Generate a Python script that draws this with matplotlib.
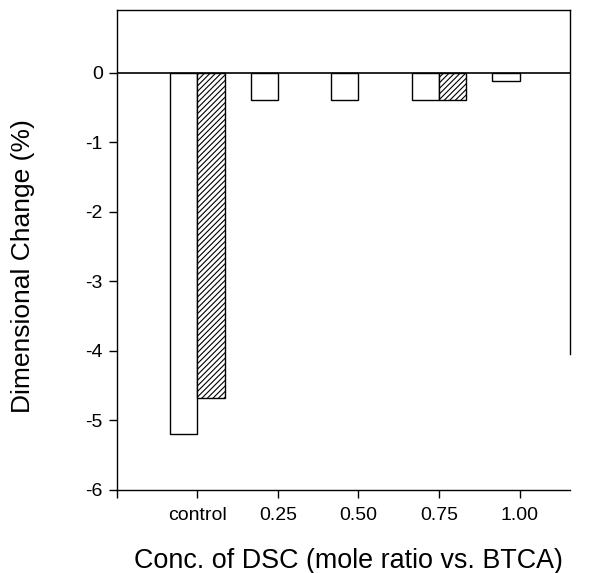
import numpy as np
import matplotlib
matplotlib.use("Agg")
import matplotlib.pyplot as plt

plt.rcParams["font.family"] = ["Liberation Sans", "DejaVu Sans"]
plt.rcParams["hatch.linewidth"] = 0.8

# datos
categories = ["control", "0.25", "0.50", "0.75", "1.00"]
open_vals = [-5.2, -0.4, -0.4, -0.4, -0.12]
hatch_vals = [-4.68, np.nan, np.nan, -0.4, np.nan]

x = np.arange(1, len(categories) + 1)
w = 0.34

fig = plt.figure(figsize=(5.99, 5.73), dpi=100)
ax = fig.add_axes([0.195, 0.145, 0.757, 0.8375])

ax.bar(x - w / 2, open_vals, width=w, color="white", edgecolor="black", linewidth=1.0)
ax.bar(x + w / 2, hatch_vals, width=w, color="white", edgecolor="black",
       linewidth=1.0, hatch="//////")
ax.axhline(0, color="black", lw=1.2)

ax.set_xlim(0, 5.63)
ax.set_ylim(-6, 0.9)
ax.set_yticks(range(-6, 1))
ax.set_yticklabels([str(v) for v in range(-6, 1)])
ax.set_xticks(np.concatenate([[0], x]))
ax.set_xticklabels([""] + categories)

ax.tick_params(direction="out", length=6, width=1, labelsize=14, pad=4)
ax.tick_params(axis="x", pad=6)
for s in ax.spines.values():
    s.set_linewidth(1)
ax.spines["right"].set_bounds(-4.05, 0.9)

ax.set_ylabel("Dimensional Change (%)", fontsize=19)
ax.set_xlabel("Conc. of DSC (mole ratio vs. BTCA)", fontsize=19.4)
ax.yaxis.set_label_coords(-0.18, 0.467)
ax.xaxis.set_label_coords(0.51, -0.122)

fig.savefig("out.png", dpi=100)
